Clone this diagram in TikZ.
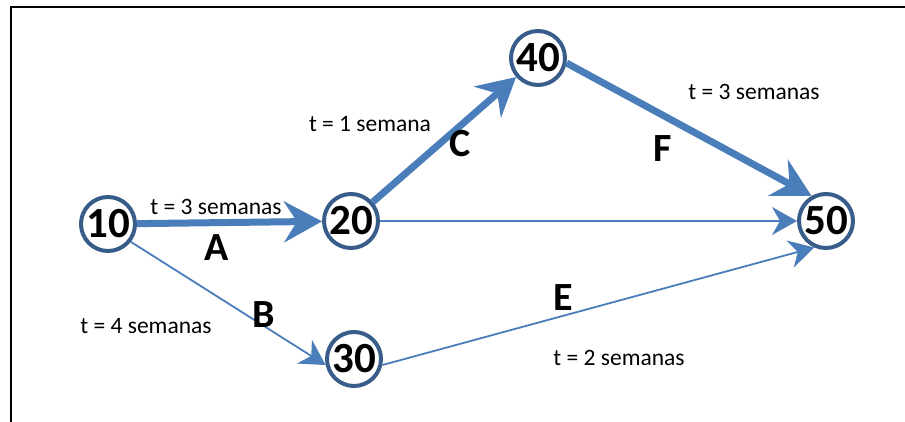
\documentclass[tikz,border=0pt]{standalone}
\usepackage{fontspec}
\setmainfont{Carlito}
\definecolor{arcblue}{RGB}{74,126,187}
\definecolor{ringblue}{RGB}{56,93,138}
\usetikzlibrary{arrows.meta}
\newcommand{\evnum}[1]{\raisebox{-7pt}{#1}}

\begin{document}
\begin{tikzpicture}[x=1pt, y=-1pt,
  evt/.style={circle, draw=ringblue, line width=4pt, fill=white, minimum size=54pt,
    inner sep=0pt, font=\fontsize{43}{43}\selectfont\bfseries},
  crit/.style={arcblue, line width=7pt, -{Stealth[length=38pt, width=41pt, inset=13pt]}},
  slack/.style={arcblue, line width=1.8pt, -{Stealth[length=25pt, width=28pt, inset=8pt]}},
  dur/.style={font=\fontsize{23.5}{25}\selectfont, anchor=base},
  act/.style={font=\fontsize{40}{40}\selectfont\bfseries, anchor=base}]
  \useasboundingbox (0,0) rectangle (905,422);
  % Frame
  \draw[line width=2.6pt] (11,430) -- (11,7) -- (910,7);
  % Events
  \foreach \n/\x/\y in {10/108/224, 20/351/221, 40/538/58, 50/826/221, 30/354/359} {
    \node[evt] (n\n) at (\x,\y) {\evnum{\n}};
  }
  % Activities
  \draw[crit] (n10) -- (n20);
  \draw[crit] (n20) -- (n40);
  \draw[crit] (n40.-10) -- (n50.120);
  \draw[slack] (n20) -- (n50);
  \draw[slack] (n10.-38) -- (n30.192);
  \draw[slack] (n30.-12) -- (n50.246);
  % Labels
  \node[dur] (tA) at (216,215) {t = 3 semanas};
  \node[dur] (tC) at (370,132) {t = 1 semana};
  \node[dur] (tF) at (754,100) {t = 3 semanas};
  \node[dur] (tB) at (146,333) {t = 4 semanas};
  \node[dur] (tE) at (619,365) {t = 2 semanas};
  \node[act] (lA) at (217,260) {A};
  \node[act] (lC) at (460,157) {C};
  \node[act] (lF) at (663,162) {F};
  \node[act] (lB) at (264,327) {B};
  \node[act] (lE) at (563,310) {E};
\end{tikzpicture}
\end{document}
